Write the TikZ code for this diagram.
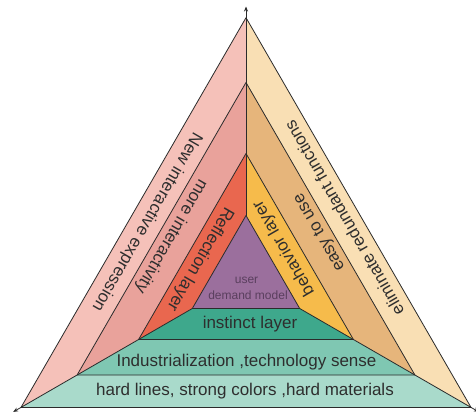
\documentclass[tikz,border=0pt]{standalone}
\usepackage{fontspec}
\setmainfont{Liberation Sans}
\usetikzlibrary{arrows.meta}
\definecolor{pinkA}{HTML}{F5C1B9}
\definecolor{creamA}{HTML}{F9DFB4}
\definecolor{tealA}{HTML}{A9DACB}
\definecolor{pinkB}{HTML}{E9A29B}
\definecolor{tanB}{HTML}{E6B57B}
\definecolor{tealB}{HTML}{7FC7B2}
\definecolor{redC}{HTML}{E9674F}
\definecolor{yellowC}{HTML}{F6BB4B}
\definecolor{greenC}{HTML}{3EA88C}
\definecolor{purpleD}{HTML}{9B6F9D}
\definecolor{linec}{HTML}{2B2B2B}
\definecolor{txt}{HTML}{2E2E2E}
\definecolor{ptxt}{HTML}{5A3F5E}
\begin{document}
\begin{tikzpicture}[x=1pt,y=-1pt,
  edge/.style={draw=linec, line width=0.8pt, line join=round},
  axis/.style={draw=linec, line width=0.8pt, -{Stealth[length=5pt,width=4pt]}},
  lab/.style={font=\fontsize{17}{20}\selectfont, text=txt, inner sep=0pt},
  small/.style={font=\fontsize{12}{14}\selectfont, text=ptxt, inner sep=0pt}]
\useasboundingbox (0,0) rectangle (476,417);
\fill[white] (0,0) rectangle (476,417);
% triangle corners
\coordinate (T3) at (246,17.7);  \coordinate (L3) at (21,407.4);    \coordinate (R3) at (471,407.4);
\coordinate (T2) at (246,82.5);  \coordinate (L2) at (77.1,375);    \coordinate (R2) at (414.9,375);
\coordinate (T1) at (246,153.5); \coordinate (L1) at (138.6,339.5); \coordinate (R1) at (353.4,339.5);
\coordinate (T0) at (246,215.5); \coordinate (L0) at (192.3,308.5); \coordinate (R0) at (299.7,308.5);
\coordinate (Ttip) at (246,6.5);
\coordinate (Ltip) at (13.2,411.9);
\coordinate (Rtip) at (478.8,411.9);
% outer ring
\fill[pinkA]  (T3)--(L3)--(L2)--(T2)--cycle;
\fill[creamA] (T3)--(R3)--(R2)--(T2)--cycle;
\fill[tealA]  (L3)--(R3)--(R2)--(L2)--cycle;
% middle ring
\fill[pinkB]  (T2)--(L2)--(L1)--(T1)--cycle;
\fill[tanB]   (T2)--(R2)--(R1)--(T1)--cycle;
\fill[tealB]  (L2)--(R2)--(R1)--(L1)--cycle;
% inner ring
\fill[redC]    (T1)--(L1)--(L0)--(T0)--cycle;
\fill[yellowC] (T1)--(R1)--(R0)--(T0)--cycle;
\fill[greenC]  (L1)--(R1)--(R0)--(L0)--cycle;
% core
\fill[purpleD] (T0)--(L0)--(R0)--cycle;
% edges
\draw[edge] (T3)--(L3)--(R3)--cycle;
\draw[edge] (T2)--(L2)--(R2)--cycle;
\draw[edge] (T1)--(L1)--(R1)--cycle;
\draw[edge] (T0)--(L0)--(R0)--cycle;
% axes
\draw[axis] (T0) -- (Ttip);
\draw[axis] (L0) -- (Ltip);
\draw[axis] (R0) -- (Rtip);
% left texts
\node[lab, rotate=-120] (newint) at (146.8,222) {New interactive expression};
\node[lab, rotate=-120] (moreint) at (171,236) {more interactivity};
\node[lab, rotate=-120] (refl) at (200,259) {Reflection layer};
% right texts
\node[lab, rotate=120] (elim) at (344,218) {eliminate redundant functions};
\node[lab, rotate=120] (easy) at (320,232) {easy to use};
\node[lab, rotate=120] (behav) at (284,248) {behavior layer};
% bottom texts
\node[lab, anchor=base] (hard) at (245,395) {hard lines, strong colors ,hard materials};
\node[lab, anchor=base] (indus) at (246.5,366.7) {Industrialization ,technology sense};
\node[lab, anchor=base] (inst) at (250,328.3) {instinct layer};
\node[small, anchor=base] (user) at (246.5,283.3) {user};
\node[small, anchor=base] (demand) at (248,299) {demand model};
\end{tikzpicture}
\end{document}
